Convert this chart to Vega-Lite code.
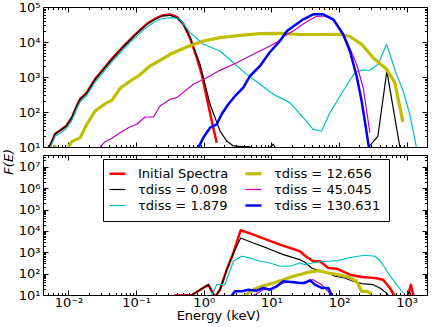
{
"$schema": "https://vega.github.io/schema/vega-lite/v6.json",
"padding": {"left": 2, "top": 0, "right": 8, "bottom": 2},
"bounds": "flush",
"title": {"text": "F(E)", "orient": "left", "anchor": "middle", "frame": "bounds", "fontStyle": "italic", "fontWeight": "normal", "fontSize": 13, "font": "DejaVu Sans", "color": "black", "offset": 2},
"config": {
  "view": {"stroke": "black", "strokeWidth": 1},
  "font": "DejaVu Sans",
  "axis": {"labelFont": "DejaVu Sans", "labelFontSize": 13, "labelColor": "black", "tickColor": "black", "domain": false, "grid": false, "titleFont": "DejaVu Sans", "titleFontSize": 13, "titleFontWeight": "normal", "titleColor": "black", "labelOverlap": false, "labelFlush": false, "labelBound": false}
},
"spacing": 8,
"resolve": {"scale": {"color": "independent", "x": "independent", "y": "independent"}},
"datasets": {
"top": [
{"s":"Initial Spectra","E":0.0048,"F":5},{"s":"Initial Spectra","E":0.00524,"F":10},{"s":"Initial Spectra","E":0.00637,"F":24},{"s":"Initial Spectra","E":0.00798,"F":32},{"s":"Initial Spectra","E":0.00925,"F":40},{"s":"Initial Spectra","E":0.0112,"F":69},{"s":"Initial Spectra","E":0.0133,"F":150},{"s":"Initial Spectra","E":0.0149,"F":235},{"s":"Initial Spectra","E":0.0187,"F":360},{"s":"Initial Spectra","E":0.0248,"F":870},{"s":"Initial Spectra","E":0.0329,"F":1700},{"s":"Initial Spectra","E":0.0438,"F":3300},{"s":"Initial Spectra","E":0.0649,"F":7500},{"s":"Initial Spectra","E":0.0966,"F":16200},{"s":"Initial Spectra","E":0.144,"F":33000},{"s":"Initial Spectra","E":0.191,"F":46000},{"s":"Initial Spectra","E":0.24,"F":57000},{"s":"Initial Spectra","E":0.318,"F":61000},{"s":"Initial Spectra","E":0.399,"F":52000},{"s":"Initial Spectra","E":0.5,"F":33000},{"s":"Initial Spectra","E":0.628,"F":13000},{"s":"Initial Spectra","E":0.788,"F":3560},{"s":"Initial Spectra","E":0.934,"F":1190},{"s":"Initial Spectra","E":1.107,"F":257},{"s":"Initial Spectra","E":1.313,"F":55},{"s":"Initial Spectra","E":1.556,"F":13.3},
{"s":"τdiss = 0.098","E":0.0048,"F":5},{"s":"τdiss = 0.098","E":0.00524,"F":10},{"s":"τdiss = 0.098","E":0.00637,"F":24},{"s":"τdiss = 0.098","E":0.00798,"F":32},{"s":"τdiss = 0.098","E":0.00925,"F":40},{"s":"τdiss = 0.098","E":0.0112,"F":69},{"s":"τdiss = 0.098","E":0.0133,"F":148},{"s":"τdiss = 0.098","E":0.0149,"F":231},{"s":"τdiss = 0.098","E":0.0187,"F":356},{"s":"τdiss = 0.098","E":0.0248,"F":859},{"s":"τdiss = 0.098","E":0.0329,"F":1660},{"s":"τdiss = 0.098","E":0.0438,"F":3200},{"s":"τdiss = 0.098","E":0.0649,"F":7340},{"s":"τdiss = 0.098","E":0.0966,"F":15800},{"s":"τdiss = 0.098","E":0.144,"F":32000},{"s":"τdiss = 0.098","E":0.191,"F":44500},{"s":"τdiss = 0.098","E":0.24,"F":55300},{"s":"τdiss = 0.098","E":0.318,"F":58000},{"s":"τdiss = 0.098","E":0.399,"F":49400},{"s":"τdiss = 0.098","E":0.5,"F":32000},{"s":"τdiss = 0.098","E":0.628,"F":13300},{"s":"τdiss = 0.098","E":0.744,"F":5530},{"s":"τdiss = 0.098","E":0.881,"F":2310},{"s":"τdiss = 0.098","E":1.045,"F":618},{"s":"τdiss = 0.098","E":1.24,"F":166},{"s":"τdiss = 0.098","E":1.47,"F":69},{"s":"τdiss = 0.098","E":1.74,"F":28.6},{"s":"τdiss = 0.098","E":2.19,"F":14.8},{"s":"τdiss = 0.098","E":2.74,"F":10.7},{"s":"τdiss = 0.098","E":3.6,"F":10.3},{"s":"τdiss = 0.098","E":4.83,"F":10.2},{"s":"τdiss = 0.098","E":6.5,"F":6},{"s":"τdiss = 0.098","E":8.5,"F":8},{"s":"τdiss = 0.098","E":10.7,"F":12},{"s":"τdiss = 0.098","E":13,"F":6},{"s":"τdiss = 0.098","E":40,"F":3},{"s":"τdiss = 0.098","E":150,"F":3},{"s":"τdiss = 0.098","E":276,"F":10},{"s":"τdiss = 0.098","E":376,"F":20.6},{"s":"τdiss = 0.098","E":510,"F":1480},{"s":"τdiss = 0.098","E":794,"F":10},{"s":"τdiss = 0.098","E":1000,"F":2},
{"s":"τdiss = 1.879","E":0.0048,"F":4},{"s":"τdiss = 1.879","E":0.00524,"F":8.5},{"s":"τdiss = 1.879","E":0.00637,"F":20.6},{"s":"τdiss = 1.879","E":0.00798,"F":27},{"s":"τdiss = 1.879","E":0.00925,"F":33},{"s":"τdiss = 1.879","E":0.0112,"F":57},{"s":"τdiss = 1.879","E":0.0133,"F":126},{"s":"τdiss = 1.879","E":0.0149,"F":196},{"s":"τdiss = 1.879","E":0.0187,"F":300},{"s":"τdiss = 1.879","E":0.0248,"F":720},{"s":"τdiss = 1.879","E":0.0329,"F":1400},{"s":"τdiss = 1.879","E":0.0438,"F":2700},{"s":"τdiss = 1.879","E":0.0649,"F":6200},{"s":"τdiss = 1.879","E":0.0966,"F":13300},{"s":"τdiss = 1.879","E":0.144,"F":27000},{"s":"τdiss = 1.879","E":0.191,"F":38000},{"s":"τdiss = 1.879","E":0.226,"F":44600},{"s":"τdiss = 1.879","E":0.28,"F":48500},{"s":"τdiss = 1.879","E":0.356,"F":49400},{"s":"τdiss = 1.879","E":0.447,"F":44600},{"s":"τdiss = 1.879","E":0.628,"F":18500},{"s":"τdiss = 1.879","E":0.986,"F":8590},{"s":"τdiss = 1.879","E":1.74,"F":5530},{"s":"τdiss = 1.879","E":2.74,"F":2560},{"s":"τdiss = 1.879","E":4.32,"F":1190},{"s":"τdiss = 1.879","E":6.79,"F":618},{"s":"τdiss = 1.879","E":10.7,"F":321},{"s":"τdiss = 1.879","E":18.8,"F":185},{"s":"τdiss = 1.879","E":29.6,"F":68.7},{"s":"τdiss = 1.879","E":41.6,"F":32},{"s":"τdiss = 1.879","E":55.3,"F":28.6},{"s":"τdiss = 1.879","E":73.5,"F":95.5},{"s":"τdiss = 1.879","E":115,"F":398},{"s":"τdiss = 1.879","E":172,"F":1330},{"s":"τdiss = 1.879","E":216,"F":1585},{"s":"τdiss = 1.879","E":286,"F":1560},{"s":"τdiss = 1.879","E":379,"F":2300},{"s":"τdiss = 1.879","E":505,"F":8590},{"s":"τdiss = 1.879","E":709,"F":1190},{"s":"τdiss = 1.879","E":888,"F":398},{"s":"τdiss = 1.879","E":1115,"F":86},{"s":"τdiss = 1.879","E":1400,"F":9.5},{"s":"τdiss = 1.879","E":1600,"F":2},
{"s":"τdiss = 12.656","E":0.0055,"F":6},{"s":"τdiss = 12.656","E":0.0063,"F":10.5},{"s":"τdiss = 12.656","E":0.0072,"F":6},{"s":"τdiss = 12.656","E":0.0095,"F":8},{"s":"τdiss = 12.656","E":0.01,"F":10},{"s":"τdiss = 12.656","E":0.0112,"F":14.2},{"s":"τdiss = 12.656","E":0.0149,"F":18.5},{"s":"τdiss = 12.656","E":0.0187,"F":44.6},{"s":"τdiss = 12.656","E":0.0248,"F":107},{"s":"τdiss = 12.656","E":0.0348,"F":173},{"s":"τdiss = 12.656","E":0.0438,"F":216},{"s":"τdiss = 12.656","E":0.058,"F":475},{"s":"τdiss = 12.656","E":0.0817,"F":769},{"s":"τdiss = 12.656","E":0.108,"F":1068},{"s":"τdiss = 12.656","E":0.161,"F":2062},{"s":"τdiss = 12.656","E":0.226,"F":3000},{"s":"τdiss = 12.656","E":0.318,"F":4460},{"s":"τdiss = 12.656","E":0.561,"F":7200},{"s":"τdiss = 12.656","E":0.986,"F":10700},{"s":"τdiss = 12.656","E":1.74,"F":13300},{"s":"τdiss = 12.656","E":3.44,"F":15500},{"s":"τdiss = 12.656","E":6.79,"F":17300},{"s":"τdiss = 12.656","E":13.4,"F":17700},{"s":"τdiss = 12.656","E":26.4,"F":16400},{"s":"τdiss = 12.656","E":52.3,"F":16400},{"s":"τdiss = 12.656","E":103,"F":16600},{"s":"τdiss = 12.656","E":145,"F":14400},{"s":"τdiss = 12.656","E":216,"F":8590},{"s":"τdiss = 12.656","E":320,"F":3560},{"s":"τdiss = 12.656","E":505,"F":1660},{"s":"τdiss = 12.656","E":670,"F":687},{"s":"τdiss = 12.656","E":879,"F":51.8},
{"s":"τdiss = 45.045","E":0.026,"F":5},{"s":"τdiss = 45.045","E":0.0294,"F":10},{"s":"τdiss = 45.045","E":0.0348,"F":14.2},{"s":"τdiss = 45.045","E":0.0438,"F":17.7},{"s":"τdiss = 45.045","E":0.058,"F":25.6},{"s":"τdiss = 45.045","E":0.0769,"F":35.6},{"s":"τdiss = 45.045","E":0.102,"F":44.6},{"s":"τdiss = 45.045","E":0.136,"F":72},{"s":"τdiss = 45.045","E":0.18,"F":72},{"s":"τdiss = 45.045","E":0.226,"F":148},{"s":"τdiss = 45.045","E":0.318,"F":231},{"s":"τdiss = 45.045","E":0.399,"F":257},{"s":"τdiss = 45.045","E":0.702,"F":618},{"s":"τdiss = 45.045","E":1.107,"F":955},{"s":"τdiss = 45.045","E":1.74,"F":1550},{"s":"τdiss = 45.045","E":3.07,"F":2560},{"s":"τdiss = 45.045","E":5.4,"F":4460},{"s":"τdiss = 45.045","E":9.53,"F":7690},{"s":"τdiss = 45.045","E":12,"F":9770},{"s":"τdiss = 45.045","E":15.9,"F":15300},{"s":"τdiss = 45.045","E":21,"F":20600},{"s":"τdiss = 45.045","E":33.2,"F":38000},{"s":"τdiss = 45.045","E":46.7,"F":54200},{"s":"τdiss = 45.045","E":61.9,"F":55300},{"s":"τdiss = 45.045","E":86.9,"F":39800},{"s":"τdiss = 45.045","E":115,"F":17500},{"s":"τdiss = 45.045","E":145,"F":6500},{"s":"τdiss = 45.045","E":182,"F":2310},{"s":"τdiss = 45.045","E":228,"F":494},{"s":"τdiss = 45.045","E":286,"F":25.6},
{"s":"τdiss = 130.631","E":0.75,"F":4},{"s":"τdiss = 130.631","E":0.832,"F":9.5},{"s":"τdiss = 130.631","E":0.986,"F":18.5},{"s":"τdiss = 130.631","E":1.24,"F":35.6},{"s":"τdiss = 130.631","E":1.556,"F":44.6},{"s":"τdiss = 130.631","E":1.84,"F":85.9},{"s":"τdiss = 130.631","E":2.31,"F":166},{"s":"τdiss = 130.631","E":2.9,"F":286},{"s":"τdiss = 130.631","E":3.84,"F":494},{"s":"τdiss = 130.631","E":4.83,"F":1068},{"s":"τdiss = 130.631","E":6.79,"F":2062},{"s":"τdiss = 130.631","E":9.53,"F":5180},{"s":"τdiss = 130.631","E":13.4,"F":10700},{"s":"τdiss = 130.631","E":17,"F":20600},{"s":"τdiss = 130.631","E":29.6,"F":44600},{"s":"τdiss = 130.631","E":41.6,"F":61800},{"s":"τdiss = 130.631","E":58.4,"F":61800},{"s":"τdiss = 130.631","E":82.1,"F":44600},{"s":"τdiss = 130.631","E":115,"F":16600},{"s":"τdiss = 130.631","E":145,"F":5530},{"s":"τdiss = 130.631","E":182,"F":1068},{"s":"τdiss = 130.631","E":216,"F":206},{"s":"τdiss = 130.631","E":241,"F":55},{"s":"τdiss = 130.631","E":277,"F":9.5},{"s":"τdiss = 130.631","E":300,"F":3}
],
"bottom": [
{"s":"Initial Spectra","E":0.3,"F":5},{"s":"Initial Spectra","E":0.377,"F":9.5},{"s":"Initial Spectra","E":0.665,"F":10},{"s":"Initial Spectra","E":1.17,"F":30.4},{"s":"Initial Spectra","E":1.47,"F":8},{"s":"Initial Spectra","E":1.74,"F":17.7},{"s":"Initial Spectra","E":2.19,"F":153},{"s":"Initial Spectra","E":2.74,"F":931},{"s":"Initial Spectra","E":3.52,"F":10800},{"s":"Initial Spectra","E":5.4,"F":6710},{"s":"Initial Spectra","E":8.53,"F":3920},{"s":"Initial Spectra","E":13.4,"F":2280},{"s":"Initial Spectra","E":26.4,"F":1120},{"s":"Initial Spectra","E":31.3,"F":695},{"s":"Initial Spectra","E":41.6,"F":380},{"s":"Initial Spectra","E":52.3,"F":380},{"s":"Initial Spectra","E":69.4,"F":185},{"s":"Initial Spectra","E":92.2,"F":171},{"s":"Initial Spectra","E":145,"F":89.5},{"s":"Initial Spectra","E":216,"F":69.8},{"s":"Initial Spectra","E":339,"F":62.7},{"s":"Initial Spectra","E":450,"F":52.1},{"s":"Initial Spectra","E":565,"F":21.3},{"s":"Initial Spectra","E":670,"F":9},{"s":"Initial Spectra","E":997,"F":5},{"s":"Initial Spectra","E":1153,"F":30.4},{"s":"Initial Spectra","E":1322,"F":5},
{"s":"τdiss = 0.098","E":0.3,"F":5},{"s":"τdiss = 0.098","E":0.377,"F":9.5},{"s":"τdiss = 0.098","E":0.665,"F":10},{"s":"τdiss = 0.098","E":1.17,"F":30.4},{"s":"τdiss = 0.098","E":1.47,"F":8},{"s":"τdiss = 0.098","E":1.74,"F":17.7},{"s":"τdiss = 0.098","E":2.19,"F":150},{"s":"τdiss = 0.098","E":2.74,"F":900},{"s":"τdiss = 0.098","E":3.52,"F":4700},{"s":"τdiss = 0.098","E":5.4,"F":2740},{"s":"τdiss = 0.098","E":8.53,"F":1600},{"s":"τdiss = 0.098","E":15,"F":775},{"s":"τdiss = 0.098","E":26.4,"F":452},{"s":"τdiss = 0.098","E":31.3,"F":341},{"s":"τdiss = 0.098","E":39.4,"F":185},{"s":"τdiss = 0.098","E":52.3,"F":129},{"s":"τdiss = 0.098","E":69.4,"F":107},{"s":"τdiss = 0.098","E":86.9,"F":75.3},{"s":"τdiss = 0.098","E":122,"F":62.7},{"s":"τdiss = 0.098","E":162,"F":43.9},{"s":"τdiss = 0.098","E":216,"F":33.9},{"s":"τdiss = 0.098","E":320,"F":30.4},{"s":"τdiss = 0.098","E":402,"F":21.3},{"s":"τdiss = 0.098","E":505,"F":12.4},{"s":"τdiss = 0.098","E":565,"F":8},{"s":"τdiss = 0.098","E":900,"F":5},{"s":"τdiss = 0.098","E":1100,"F":14.9},{"s":"τdiss = 0.098","E":1250,"F":5},
{"s":"τdiss = 1.879","E":1.2,"F":5},{"s":"τdiss = 1.879","E":1.31,"F":9.5},{"s":"τdiss = 1.879","E":1.556,"F":30.4},{"s":"τdiss = 1.879","E":2.06,"F":30.4},{"s":"τdiss = 1.879","E":2.74,"F":380},{"s":"τdiss = 1.879","E":3.64,"F":651},{"s":"τdiss = 1.879","E":4.83,"F":543},{"s":"τdiss = 1.879","E":6.79,"F":380},{"s":"τdiss = 1.879","E":9.53,"F":316},{"s":"τdiss = 1.879","E":13.4,"F":222},{"s":"τdiss = 1.879","E":18.8,"F":222},{"s":"τdiss = 1.879","E":26.4,"F":316},{"s":"τdiss = 1.879","E":31.3,"F":263},{"s":"τdiss = 1.879","E":44,"F":341},{"s":"τdiss = 1.879","E":69.4,"F":380},{"s":"τdiss = 1.879","E":97.3,"F":406},{"s":"τdiss = 1.879","E":137,"F":543},{"s":"τdiss = 1.879","E":192,"F":651},{"s":"τdiss = 1.879","E":241,"F":726},{"s":"τdiss = 1.879","E":339,"F":651},{"s":"τdiss = 1.879","E":402,"F":424},{"s":"τdiss = 1.879","E":598,"F":62.7},{"s":"τdiss = 1.879","E":888,"F":12.4},
{"s":"τdiss = 12.656","E":3.7,"F":5},{"s":"τdiss = 12.656","E":4.07,"F":9.5},{"s":"τdiss = 12.656","E":5.4,"F":17.7},{"s":"τdiss = 12.656","E":7.19,"F":25.6},{"s":"τdiss = 12.656","E":10.7,"F":36.6},{"s":"τdiss = 12.656","E":15,"F":52.1},{"s":"τdiss = 12.656","E":21,"F":75.3},{"s":"τdiss = 12.656","E":26.4,"F":89.5},{"s":"τdiss = 12.656","E":35.1,"F":116},{"s":"τdiss = 12.656","E":49.3,"F":138},{"s":"τdiss = 12.656","E":69.4,"F":107},{"s":"τdiss = 12.656","E":97.3,"F":89.5},{"s":"τdiss = 12.656","E":137,"F":69.8},{"s":"τdiss = 12.656","E":182,"F":43.9},{"s":"τdiss = 12.656","E":216,"F":14.9},{"s":"τdiss = 12.656","E":256,"F":14.9},{"s":"τdiss = 12.656","E":303,"F":11.5},
{"s":"τdiss = 45.045","E":5,"F":5},{"s":"τdiss = 45.045","E":5.4,"F":9.5},{"s":"τdiss = 45.045","E":7.59,"F":17.7},{"s":"τdiss = 45.045","E":10.7,"F":21.3},{"s":"τdiss = 45.045","E":15,"F":36.6},{"s":"τdiss = 45.045","E":21,"F":43.9},{"s":"τdiss = 45.045","E":26.4,"F":36.6},{"s":"τdiss = 45.045","E":29.6,"F":39.4},{"s":"τdiss = 45.045","E":41.6,"F":52.1},{"s":"τdiss = 45.045","E":55.3,"F":30.4},{"s":"τdiss = 45.045","E":65.6,"F":17.7},{"s":"τdiss = 45.045","E":77.8,"F":9},{"s":"τdiss = 45.045","E":85,"F":5},
{"s":"τdiss = 130.631","E":2.4,"F":5},{"s":"τdiss = 130.631","E":2.59,"F":9.5},{"s":"τdiss = 130.631","E":2.9,"F":14.9},{"s":"τdiss = 130.631","E":3.64,"F":14.9},{"s":"τdiss = 130.631","E":4.56,"F":17.7},{"s":"τdiss = 130.631","E":6.06,"F":15.9},{"s":"τdiss = 130.631","E":7.59,"F":21.3},{"s":"τdiss = 130.631","E":9.53,"F":17.7},{"s":"τdiss = 130.631","E":12,"F":25.6},{"s":"τdiss = 130.631","E":15,"F":43.9},{"s":"τdiss = 130.631","E":21,"F":39.4},{"s":"τdiss = 130.631","E":26.4,"F":36.6},{"s":"τdiss = 130.631","E":31.3,"F":36.6},{"s":"τdiss = 130.631","E":37.2,"F":48.9},{"s":"τdiss = 130.631","E":44,"F":30.4},{"s":"τdiss = 130.631","E":55.3,"F":21.3},{"s":"τdiss = 130.631","E":69.4,"F":21.3},{"s":"τdiss = 130.631","E":79.4,"F":9},{"s":"τdiss = 130.631","E":85,"F":5}
]
},
"vconcat": [
{
  "width": 384, "height": 140,
  "data": {"name": "top"},
  "resolve": {"axis": {"x": "independent", "y": "independent"}},
  "layer": [
    {
      "mark": {"type": "line", "clip": true, "strokeJoin": "round"},
      "encoding": {
        "x": {"field": "E", "type": "quantitative", "scale": {"type": "log", "domain": [0.0042, 2000]},
              "axis": {"orient": "bottom", "title": null, "labels": false, "values": [0.005,0.006,0.007,0.008,0.009,0.01,0.02,0.03,0.04,0.05,0.06,0.07,0.08,0.09,0.1,0.2,0.3,0.4,0.5,0.6,0.7,0.8,0.9,1,2,3,4,5,6,7,8,9,10,20,30,40,50,60,70,80,90,100,200,300,400,500,600,700,800,900,1000,2000],
                       "tickSize": {"condition": {"test": "abs(log(datum.value)/LN10-round(log(datum.value)/LN10))<0.001", "value": -5}, "value": -2.5}}},
        "y": {"field": "F", "type": "quantitative", "scale": {"type": "log", "domain": [10, 100000]},
              "axis": {"orient": "left", "title": null, "labelPadding": 8, "values": [10,20,30,40,50,60,70,80,90,100,200,300,400,500,600,700,800,900,1000,2000,3000,4000,5000,6000,7000,8000,9000,10000,20000,30000,40000,50000,60000,70000,80000,90000,100000],
                       "labelExpr": "abs(log(datum.value)/LN10-round(log(datum.value)/LN10))<0.001 ? '10' + ['⁰','¹','²','³','⁴','⁵','⁶','⁷','⁸','⁹'][abs(round(log(datum.value)/LN10))] : ''",
                       "tickSize": {"condition": {"test": "abs(log(datum.value)/LN10-round(log(datum.value)/LN10))<0.001", "value": -5}, "value": -2.5}}},
        "color": {"field": "s", "type": "nominal", "legend": null,
                  "scale": {"domain": ["Initial Spectra","τdiss = 0.098","τdiss = 1.879","τdiss = 12.656","τdiss = 45.045","τdiss = 130.631"], "range": ["#ff0000","#000000","#00bfbf","#bfbf00","#bf00bf","#0000ff"]}},
        "strokeWidth": {"condition": [{"test": "datum.s == 'τdiss = 12.656'", "value": 3.2}, {"test": "datum.s == 'Initial Spectra' || datum.s == 'τdiss = 130.631'", "value": 2.5}], "value": 1.2}
      }
    },
    {
      "mark": {"type": "line", "opacity": 0},
      "encoding": {
        "x": {"field": "E", "type": "quantitative", "scale": {"type": "log", "domain": [0.0042, 2000]},
              "axis": {"orient": "top", "title": null, "labels": false, "values": [0.005,0.006,0.007,0.008,0.009,0.01,0.02,0.03,0.04,0.05,0.06,0.07,0.08,0.09,0.1,0.2,0.3,0.4,0.5,0.6,0.7,0.8,0.9,1,2,3,4,5,6,7,8,9,10,20,30,40,50,60,70,80,90,100,200,300,400,500,600,700,800,900,1000,2000],
                       "tickSize": {"condition": {"test": "abs(log(datum.value)/LN10-round(log(datum.value)/LN10))<0.001", "value": -5}, "value": -2.5}}},
        "y": {"field": "F", "type": "quantitative", "scale": {"type": "log", "domain": [10, 100000]},
              "axis": {"orient": "right", "title": null, "labels": false, "values": [10,20,30,40,50,60,70,80,90,100,200,300,400,500,600,700,800,900,1000,2000,3000,4000,5000,6000,7000,8000,9000,10000,20000,30000,40000,50000,60000,70000,80000,90000,100000],
                       "tickSize": {"condition": {"test": "abs(log(datum.value)/LN10-round(log(datum.value)/LN10))<0.001", "value": -5}, "value": -2.5}}}
      }
    }
  ]
},
{
  "width": 384, "height": 140,
  "data": {"name": "bottom"},
  "resolve": {"axis": {"x": "independent", "y": "independent"}},
  "layer": [
    {
      "mark": {"type": "line", "clip": true, "strokeJoin": "round"},
      "encoding": {
        "x": {"field": "E", "type": "quantitative", "scale": {"type": "log", "domain": [0.0042, 2000]},
              "axis": {"orient": "bottom", "title": "Energy (keV)", "titlePadding": -2, "titleX": 175, "labelPadding": 6, "values": [0.005,0.006,0.007,0.008,0.009,0.01,0.02,0.03,0.04,0.05,0.06,0.07,0.08,0.09,0.1,0.2,0.3,0.4,0.5,0.6,0.7,0.8,0.9,1,2,3,4,5,6,7,8,9,10,20,30,40,50,60,70,80,90,100,200,300,400,500,600,700,800,900,1000,2000],
                       "labelExpr": "abs(log(datum.value)/LN10-round(log(datum.value)/LN10))<0.001 ? '10' + (datum.value < 1 ? '⁻' : '') + ['⁰','¹','²','³','⁴','⁵','⁶','⁷','⁸','⁹'][abs(round(log(datum.value)/LN10))] : ''",
                       "tickSize": {"condition": {"test": "abs(log(datum.value)/LN10-round(log(datum.value)/LN10))<0.001", "value": -5}, "value": -2.5}}},
        "y": {"field": "F", "type": "quantitative", "scale": {"type": "log", "domain": [10, 36000000]},
              "axis": {"orient": "left", "title": null, "labelPadding": 8, "values": [10,20,30,40,50,60,70,80,90,100,200,300,400,500,600,700,800,900,1000,2000,3000,4000,5000,6000,7000,8000,9000,10000,20000,30000,40000,50000,60000,70000,80000,90000,100000,200000,300000,400000,500000,600000,700000,800000,900000,1000000,2000000,3000000,4000000,5000000,6000000,7000000,8000000,9000000,10000000,20000000,30000000],
                       "labelExpr": "abs(log(datum.value)/LN10-round(log(datum.value)/LN10))<0.001 ? '10' + ['⁰','¹','²','³','⁴','⁵','⁶','⁷','⁸','⁹'][abs(round(log(datum.value)/LN10))] : ''",
                       "tickSize": {"condition": {"test": "abs(log(datum.value)/LN10-round(log(datum.value)/LN10))<0.001", "value": -5}, "value": -2.5}}},
        "color": {"field": "s", "type": "nominal",
                  "scale": {"domain": ["Initial Spectra","τdiss = 0.098","τdiss = 1.879","τdiss = 12.656","τdiss = 45.045","τdiss = 130.631"], "range": ["#ff0000","#000000","#00bfbf","#bfbf00","#bf00bf","#0000ff"]},
                  "legend": {"orient": "none", "legendX": 60, "legendY": 4, "columns": 2, "title": null, "strokeColor": "black", "fillColor": "white", "padding": 8, "cornerRadius": 0, "symbolType": "stroke", "symbolSize": 256, "labelFontSize": 13, "labelFont": "DejaVu Sans", "labelColor": "black", "labelLimit": 300, "columnPadding": 10, "rowPadding": 2, "labelOffset": 14,
                             "encode": {"symbols": {"update": {"strokeWidth": {"signal": "datum.value == 'τdiss = 12.656' ? 3.2 : (datum.value == 'Initial Spectra' || datum.value == 'τdiss = 130.631') ? 2.5 : 1.2"}}}}}},
        "strokeWidth": {"condition": [{"test": "datum.s == 'τdiss = 12.656'", "value": 3.2}, {"test": "datum.s == 'Initial Spectra' || datum.s == 'τdiss = 130.631'", "value": 2.5}], "value": 1.2}
      }
    },
    {
      "mark": {"type": "line", "opacity": 0},
      "encoding": {
        "x": {"field": "E", "type": "quantitative", "scale": {"type": "log", "domain": [0.0042, 2000]},
              "axis": {"orient": "top", "title": null, "labels": false, "values": [0.005,0.006,0.007,0.008,0.009,0.01,0.02,0.03,0.04,0.05,0.06,0.07,0.08,0.09,0.1,0.2,0.3,0.4,0.5,0.6,0.7,0.8,0.9,1,2,3,4,5,6,7,8,9,10,20,30,40,50,60,70,80,90,100,200,300,400,500,600,700,800,900,1000,2000],
                       "tickSize": {"condition": {"test": "abs(log(datum.value)/LN10-round(log(datum.value)/LN10))<0.001", "value": -5}, "value": -2.5}}},
        "y": {"field": "F", "type": "quantitative", "scale": {"type": "log", "domain": [10, 36000000]},
              "axis": {"orient": "right", "title": null, "labels": false, "values": [10,20,30,40,50,60,70,80,90,100,200,300,400,500,600,700,800,900,1000,2000,3000,4000,5000,6000,7000,8000,9000,10000,20000,30000,40000,50000,60000,70000,80000,90000,100000,200000,300000,400000,500000,600000,700000,800000,900000,1000000,2000000,3000000,4000000,5000000,6000000,7000000,8000000,9000000,10000000,20000000,30000000],
                       "tickSize": {"condition": {"test": "abs(log(datum.value)/LN10-round(log(datum.value)/LN10))<0.001", "value": -5}, "value": -2.5}}}
      }
    }
  ]
}
]
}
